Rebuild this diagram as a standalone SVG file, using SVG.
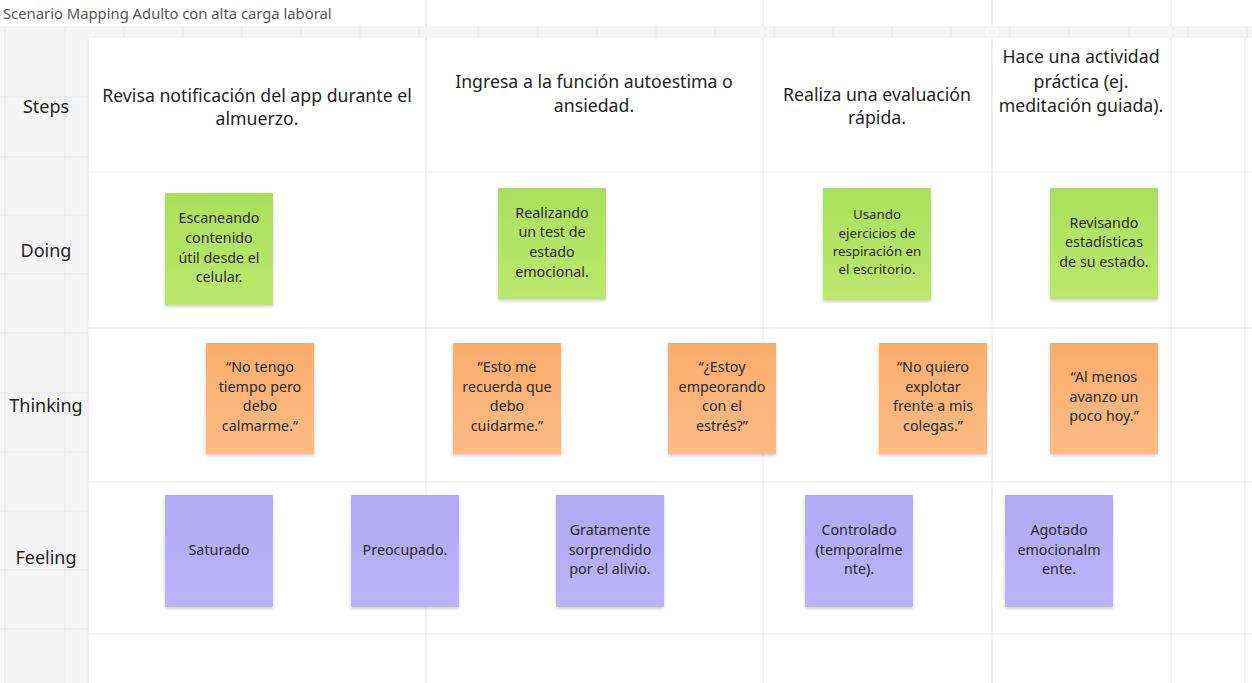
<svg xmlns="http://www.w3.org/2000/svg" width="1252" height="683" viewBox="0 0 1252 683">
<style>
.bg{fill:#f4f4f4}
.grid{stroke:#e6e6e6;stroke-width:1;fill:none}
.cell{stroke:#ececec;stroke-width:1.2;fill:none}
.title{font-family:"Noto Sans","Open Sans",sans-serif;font-size:14.8px;fill:#555}
.lab{font-family:"Noto Sans","Open Sans",sans-serif;font-size:18px;fill:#1f1f1f;text-anchor:middle}
.step{font-family:"Noto Sans","Open Sans",sans-serif;font-size:17.7px;fill:#1f1f1f;text-anchor:middle}
.st{font-family:"Noto Sans","Open Sans",sans-serif;font-size:14.3px;fill:#2a2a2a;text-anchor:middle}
.sm{font-size:13.3px}
.g{fill:url(#gg)}
.o{fill:url(#go)}
.p{fill:url(#gp)}
.n{filter:url(#sh)}
</style>
<defs>
<linearGradient id="gg" x1="0" y1="0" x2="0" y2="1"><stop offset="0" stop-color="#abdf5a"/><stop offset="1" stop-color="#bce86d"/></linearGradient>
<linearGradient id="go" x1="0" y1="0" x2="0" y2="1"><stop offset="0" stop-color="#f9ad6c"/><stop offset="1" stop-color="#fdbc85"/></linearGradient>
<linearGradient id="gp" x1="0" y1="0" x2="0" y2="1"><stop offset="0" stop-color="#b2a8f3"/><stop offset="1" stop-color="#bcb3fb"/></linearGradient>
<filter id="sh" x="-10%" y="-10%" width="120%" height="125%"><feDropShadow dx="0" dy="2" stdDeviation="1.5" flood-color="#000" flood-opacity="0.18"/></filter>
</defs>

<g id="background">
<rect x="0" y="0" width="1252" height="683" fill="#ffffff"/>
<rect class="bg" x="0" y="26" width="1252" height="12"/>
<rect class="bg" x="0" y="26" width="88" height="657"/>
<path class="grid" d="M5 26V683M65 26V683M124 26V38M183 26V38M242 26V38M301 26V38M360 26V38M419 26V38M478 26V38M538 26V38M597 26V38M656 26V38M715 26V38M774 26V38M833 26V38M892 26V38M951 26V38M1010 26V38M1069 26V38M1129 26V38M1188 26V38M1247 26V38"/>
<path class="grid" d="M0 97H88M0 157H88M0 215H88M0 274H88M0 333H88M0 393H88M0 452H88M0 511H88M0 570H88M0 629H88"/>
<rect x="88" y="38" width="1164" height="645" fill="#ffffff"/>
<path class="cell" d="M88 38V683M426 0V26M426 38V683M763 0V26M763 38V683M992 0V26M992 38V683M1171 0V26M1171 38V683M1245 38V683M88 172H1252M88 328H1252M88 482H1252M88 634H1252"/>
</g>

<text id="title" class="title" x="3" y="19">Scenario Mapping Adulto con alta carga laboral</text>

<g id="row-labels">
<text class="lab" x="46" y="113">Steps</text>
<text class="lab" x="46" y="257">Doing</text>
<text class="lab" x="46" y="412">Thinking</text>
<text class="lab" x="46" y="564">Feeling</text>
</g>

<g id="steps">
<g id="step1"><text class="step" x="257" y="102">Revisa notificación del app durante el</text><text class="step" x="257" y="125">almuerzo.</text></g>
<g id="step2"><text class="step" x="594" y="88">Ingresa a la función autoestima o</text><text class="step" x="594" y="112">ansiedad.</text></g>
<g id="step3"><text class="step" x="877" y="101">Realiza una evaluación</text><text class="step" x="877" y="124">rápida.</text></g>
<g id="step4"><text class="step" x="1081" y="63">Hace una actividad</text><text class="step" x="1081" y="88">práctica (ej.</text><text class="step" x="1081" y="112">meditación guiada).</text></g>
</g>

<g id="doing1"><rect class="g n" x="165" y="193" width="108" height="112"/><text class="st"><tspan x="219" y="223">Escaneando</tspan><tspan x="219" y="243">contenido</tspan><tspan x="219" y="263">útil desde el</tspan><tspan x="219" y="282">celular.</tspan></text></g>
<g id="doing2"><rect class="g n" x="498" y="188" width="108" height="111"/><text class="st"><tspan x="552" y="218">Realizando</tspan><tspan x="552" y="237">un test de</tspan><tspan x="552" y="257">estado</tspan><tspan x="552" y="277">emocional.</tspan></text></g>
<g id="doing3"><rect class="g n" x="823" y="188" width="108" height="112"/><text class="st sm"><tspan x="877" y="219">Usando</tspan><tspan x="877" y="238">ejercicios de</tspan><tspan x="877" y="256">respiración en</tspan><tspan x="877" y="274">el escritorio.</tspan></text></g>
<g id="doing4"><rect class="g n" x="1050" y="188" width="108" height="111"/><text class="st"><tspan x="1104" y="228">Revisando</tspan><tspan x="1104" y="247">estadísticas</tspan><tspan x="1104" y="267">de su estado.</tspan></text></g>

<g id="thinking1"><rect class="o n" x="206" y="343" width="108" height="111"/><text class="st"><tspan x="260" y="372">“No tengo</tspan><tspan x="260" y="392">tiempo pero</tspan><tspan x="260" y="411">debo</tspan><tspan x="260" y="431">calmarme.”</tspan></text></g>
<g id="thinking2"><rect class="o n" x="453" y="343" width="108" height="111"/><text class="st"><tspan x="507" y="372">“Esto me</tspan><tspan x="507" y="392">recuerda que</tspan><tspan x="507" y="411">debo</tspan><tspan x="507" y="431">cuidarme.”</tspan></text></g>
<g id="thinking3"><rect class="o n" x="668" y="343" width="108" height="111"/><text class="st"><tspan x="722" y="372">“¿Estoy</tspan><tspan x="722" y="392">empeorando</tspan><tspan x="722" y="411">con el</tspan><tspan x="722" y="431">estrés?”</tspan></text></g>
<g id="thinking4"><rect class="o n" x="879" y="343" width="108" height="111"/><text class="st"><tspan x="933" y="372">“No quiero</tspan><tspan x="933" y="392">explotar</tspan><tspan x="933" y="411">frente a mis</tspan><tspan x="933" y="431">colegas.”</tspan></text></g>
<g id="thinking5"><rect class="o n" x="1050" y="343" width="108" height="111"/><text class="st"><tspan x="1104" y="382">“Al menos</tspan><tspan x="1104" y="402">avanzo un</tspan><tspan x="1104" y="421">poco hoy.”</tspan></text></g>

<g id="feeling1"><rect class="p n" x="165" y="495" width="108" height="112"/><text class="st" x="219" y="555">Saturado</text></g>
<g id="feeling2"><rect class="p n" x="351" y="495" width="108" height="112"/><text class="st" x="405" y="555">Preocupado.</text></g>
<g id="feeling3"><rect class="p n" x="556" y="495" width="108" height="112"/><text class="st"><tspan x="610" y="535">Gratamente</tspan><tspan x="610" y="555">sorprendido</tspan><tspan x="610" y="574">por el alivio.</tspan></text></g>
<g id="feeling4"><rect class="p n" x="805" y="495" width="108" height="112"/><text class="st"><tspan x="859" y="535">Controlado</tspan><tspan x="859" y="555">(temporalme</tspan><tspan x="859" y="574">nte).</tspan></text></g>
<g id="feeling5"><rect class="p n" x="1005" y="495" width="108" height="112"/><text class="st"><tspan x="1059" y="535">Agotado</tspan><tspan x="1059" y="555">emocionalm</tspan><tspan x="1059" y="574">ente.</tspan></text></g>

<g id="connectors"></g>
</svg>
